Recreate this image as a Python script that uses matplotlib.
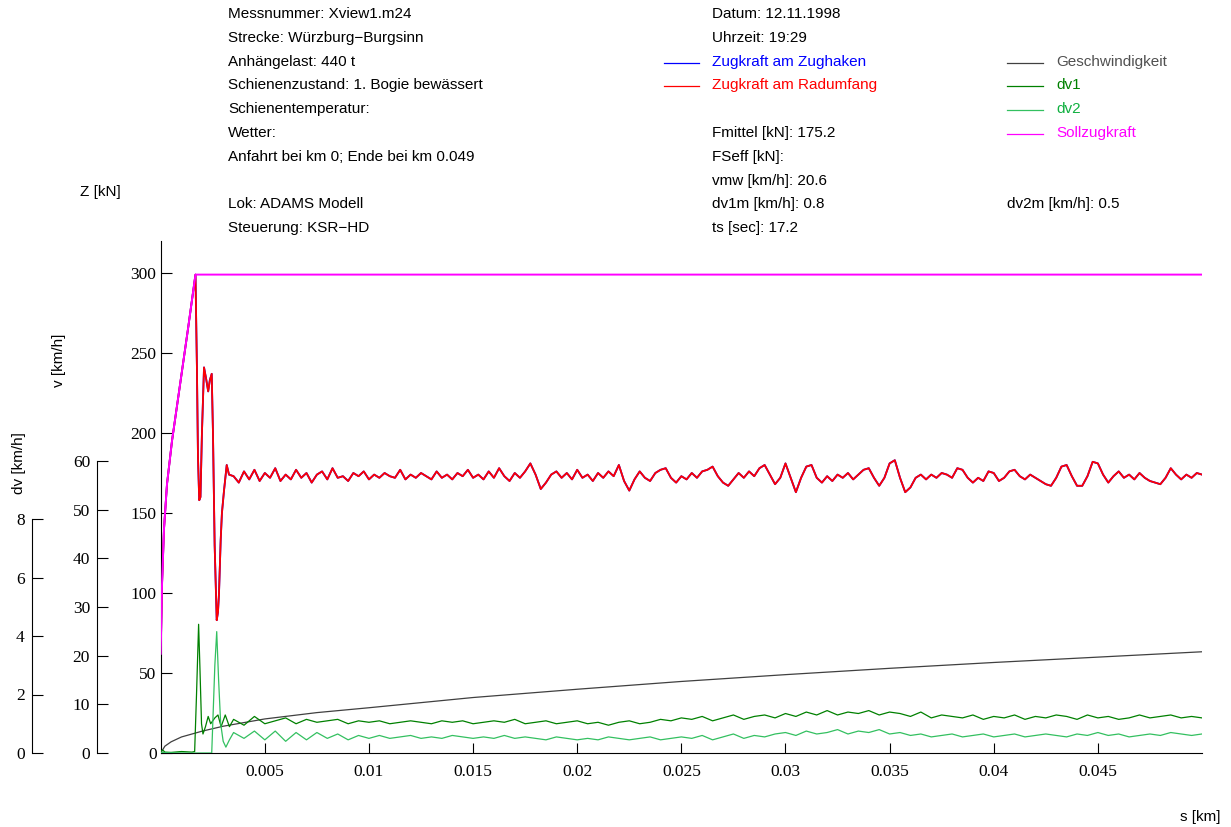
import numpy as np
import matplotlib
matplotlib.use("Agg")
import matplotlib.pyplot as plt

W, H = 1231, 827

# ---- data ----
# Sollzugkraft (target force), kN
s_soll = [0.0, 0.0000624, 0.000158, 0.000302, 0.000542, 0.000926, 0.00131, 0.00167, 0.05]
z_soll = [62, 105, 140, 168, 195, 230, 265, 299, 299]

# Zugkraft am Radumfang, start-up part (irregular spacing)
s_red_start = [0.0, 0.0000624, 0.000158, 0.000302, 0.000542, 0.000926, 0.00131, 0.00167,
               0.00174, 0.00179, 0.00185, 0.00191, 0.00198, 0.00208, 0.00218, 0.00228,
               0.00236, 0.00245, 0.00251, 0.00259, 0.00269, 0.00275, 0.0028, 0.00288,
               0.00294, 0.00304, 0.00317, 0.00328]
z_red_start = [62, 105, 140, 168, 195, 230, 265, 299,
               240, 185, 158, 160, 200, 241, 234, 226,
               233, 237, 200, 130, 83, 88, 100, 133,
               150, 164, 180, 174]
# steady part, every 0.00025 km from 0.0035 to 0.05
s_red_grid = np.arange(187) * 0.00025 + 0.0035
z_red_grid = [173, 169, 176, 171, 177, 170, 175, 172, 178, 170,
              174, 171, 177, 172, 175, 169, 174, 176, 171, 178,
              172, 173, 170, 175, 173, 176, 171, 174, 172, 175,
              173, 172, 177, 171, 174, 172, 175, 173, 171, 176,
              172, 174, 171, 175, 173, 177, 172, 174, 171, 176,
              172, 178, 173, 170, 175, 172, 176,
              181, 174, 165, 169, 174,
              176, 172, 175, 171, 177, 172, 174, 170, 175, 172, 176, 173,
              180, 170, 164, 171, 176, 172, 170, 175,
              177, 178, 172, 169, 173, 171, 175, 172, 176,
              177, 179, 173, 169, 167, 171, 175, 172, 176, 173, 178,
              180, 174, 168, 172, 181, 172, 163, 172, 179, 180,
              172, 169, 173, 170, 174, 172, 175, 171, 174,
              177, 178, 172, 167, 172, 181, 183, 172, 163, 166,
              172, 174, 171, 174, 172, 175, 174, 172, 178, 177,
              172, 169, 172, 170, 176, 175, 170, 172, 176, 177,
              173, 171, 174, 172, 170, 168, 167, 172, 179, 180,
              173, 167, 167, 173, 182, 181, 174, 169, 173, 176,
              172, 174, 171, 175, 172, 170, 169, 168, 172, 178,
              174, 171, 174, 172, 175, 174]

# Geschwindigkeit, km/h
s_speed = [0.0, 0.0002, 0.0005, 0.001, 0.002, 0.003, 0.005, 0.0075, 0.01, 0.015, 0.02,
           0.025, 0.03, 0.035, 0.04, 0.045, 0.05]
v_speed = [0.0, 1.4, 2.3, 3.3, 4.5, 5.5, 7.0, 8.3, 9.3, 11.4, 13.1,
           14.7, 16.1, 17.4, 18.6, 19.7, 20.8]

# dv1 / dv2 start-up, km/h
s_dv1_start = [0.0, 0.0001, 0.0002, 0.0005, 0.001, 0.0015, 0.00163, 0.00172, 0.00182,
               0.00188, 0.00196, 0.00203, 0.00215, 0.00228, 0.0024, 0.0026, 0.00275,
               0.0029, 0.0031, 0.0033]
dv1_start = [0.05, 0.1, 0.03, 0.02, 0.05, 0.03, 0.05, 2.0, 4.4,
             3.0, 1.0, 0.65, 0.9, 1.25, 1.0, 1.2, 1.3,
             0.9, 1.3, 0.9]
s_dv2_start = [0.0, 0.0005, 0.001, 0.0015, 0.002, 0.00245, 0.0025, 0.0026, 0.00269,
               0.00278, 0.00288, 0.003, 0.00313, 0.0033]
dv2_start = [0.02, 0.01, 0.0, 0.0, 0.0, 0.0, 1.0, 3.0, 4.15,
             2.5, 1.0, 0.4, 0.2, 0.45]
# every 0.0005 km from 0.0035 to 0.05
s_dv_grid = np.arange(94) * 0.0005 + 0.0035
dv1_grid = [1.15, 0.95, 1.25, 1.0,
            1.1, 1.2, 1.0, 1.15, 1.05, 1.1, 1.15, 1.0, 1.1, 1.05,
            1.1, 1.0, 1.05, 1.1, 1.05, 1.0, 1.1, 1.05, 1.1, 1.0,
            1.05, 1.1, 1.05, 1.15, 1.0, 1.05, 1.1, 1.0, 1.05, 1.1,
            1.0, 1.05, 0.95, 1.05, 1.1, 1.0, 1.05, 1.15, 1.1, 1.2,
            1.15, 1.25, 1.1, 1.2, 1.3, 1.15, 1.25, 1.3, 1.2, 1.35,
            1.25, 1.4, 1.3, 1.45, 1.3, 1.4, 1.35, 1.45, 1.3, 1.4,
            1.35, 1.25, 1.4, 1.2, 1.3, 1.25, 1.2, 1.3, 1.15, 1.25,
            1.2, 1.3, 1.15, 1.25, 1.2, 1.3, 1.25, 1.15, 1.3, 1.2,
            1.25, 1.15, 1.2, 1.3, 1.2, 1.25, 1.3, 1.2, 1.25, 1.2]
dv2_grid = [0.7, 0.5, 0.75, 0.45,
            0.75, 0.4, 0.7, 0.45, 0.7, 0.5, 0.65, 0.45, 0.6, 0.5,
            0.6, 0.5, 0.55, 0.6, 0.5, 0.55, 0.5, 0.6, 0.55, 0.5,
            0.55, 0.5, 0.6, 0.5, 0.55, 0.5, 0.45, 0.55, 0.5, 0.45,
            0.5, 0.45, 0.55, 0.5, 0.45, 0.5, 0.55, 0.45, 0.5, 0.55,
            0.5, 0.6, 0.45, 0.55, 0.65, 0.5, 0.6, 0.55, 0.65, 0.7,
            0.6, 0.75, 0.65, 0.7, 0.8, 0.65, 0.75, 0.7, 0.8, 0.65,
            0.7, 0.6, 0.65, 0.55, 0.6, 0.65, 0.55, 0.6, 0.65, 0.55,
            0.6, 0.65, 0.55, 0.6, 0.65, 0.6, 0.55, 0.65, 0.6, 0.7,
            0.6, 0.65, 0.55, 0.6, 0.65, 0.6, 0.7, 0.65, 0.6, 0.65]

x_ticks = [0.005, 0.01, 0.015, 0.02, 0.025, 0.03, 0.035, 0.04, 0.045]
x_ticklabels = ["0.005", "0.01", "0.015", "0.02", "0.025", "0.03", "0.035", "0.04", "0.045"]

header_left = ["Messnummer: Xview1.m24", "Strecke: Würzburg\u2212Burgsinn", "Anhängelast: 440 t",
               "Schienenzustand: 1. Bogie bewässert", "Schienentemperatur:", "Wetter:",
               "Anfahrt bei km 0; Ende bei km 0.049", "", "Lok: ADAMS Modell",
               "Steuerung: KSR\u2212HD"]
header_mid = [("Datum: 12.11.1998", 0), ("Uhrzeit: 19:29", 1), ("Fmittel [kN]: 175.2", 5),
              ("FSeff [kN]:", 6), ("vmw [km/h]: 20.6", 7), ("dv1m [km/h]: 0.8", 8),
              ("ts [sec]: 17.2", 9)]
legend_mid = [("Zugkraft am Zughaken", "#0000ff", 2), ("Zugkraft am Radumfang", "#ff0000", 3)]
legend_right = [("Geschwindigkeit", "#404040", "#505050", 2), ("dv1", "#008000", "#008000", 3),
                ("dv2", "#33c060", "#10b040", 4), ("Sollzugkraft", "#ff00ff", "#ff00ff", 5)]

s_red = np.concatenate([s_red_start, s_red_grid])
z_red = np.concatenate([z_red_start, z_red_grid])
s_dv1 = np.concatenate([s_dv1_start, s_dv_grid])
v_dv1 = np.concatenate([dv1_start, dv1_grid])
s_dv2 = np.concatenate([s_dv2_start, s_dv_grid])
v_dv2 = np.concatenate([dv2_start, dv2_grid])

SANS = "Liberation Sans"
SERIF = "Liberation Serif"


def fx(px):
    return px / W


def fy(py):
    return 1 - py / H


fig = plt.figure(figsize=(W / 100, H / 100), dpi=100)
left, right, bottom, top = 160.7, 1202, 753, 241
ax = fig.add_axes([fx(left), fy(bottom), (right - left) / W, (bottom - top) / H])

ax.plot(s_red, z_red, color="#0000ff", lw=1.3)
ax.plot(s_red, z_red, color="#ff0000", lw=1.3)
ax.set_xlim(0, 0.05)
ax.set_ylim(0, 320)
ax.set_xticks(x_ticks)
ax.set_xticklabels(x_ticklabels)
ax.set_yticks([0, 50, 100, 150, 200, 250, 300])
for sp in ["top", "right"]:
    ax.spines[sp].set_visible(False)
ax.tick_params(axis="x", direction="in", length=7, width=0.8, pad=8)
ax.tick_params(axis="y", direction="in", length=8, width=0.8, pad=3)

# speed axis
axv = ax.twinx()
axv.plot(s_speed, v_speed, color="#404040", lw=0.9)
axv.set_ylim(0, 60 * 512 / 292)
axv.yaxis.set_ticks_position("left")
axv.spines["left"].set_position(("axes", (97 - left) / (right - left)))
axv.spines["left"].set_bounds(0, 60)
for sp in ["top", "right", "bottom"]:
    axv.spines[sp].set_visible(False)
axv.set_yticks([0, 10, 20, 30, 40, 50, 60])
axv.tick_params(axis="y", direction="in", length=8, width=0.8, pad=5)

# dv axis
axd = ax.twinx()
axd.plot(s_dv1, v_dv1, color="#008000", lw=0.9)
axd.plot(s_dv2, v_dv2, color="#33c060", lw=0.9)
axd.set_ylim(0, 8 * 512 / 234)
axd.yaxis.set_ticks_position("left")
axd.spines["left"].set_position(("axes", (31.7 - left) / (right - left)))
axd.spines["left"].set_bounds(0, 8)
for sp in ["top", "right", "bottom"]:
    axd.spines[sp].set_visible(False)
axd.set_yticks([0, 2, 4, 6, 8])
axd.tick_params(axis="y", direction="in", length=8, width=0.8, pad=5)

# target force on top
axs = ax.twinx()
axs.set_ylim(0, 320)
axs.axis("off")
axs.plot(s_soll, z_soll, color="#ff00ff", lw=1.4)

for a in (ax, axv, axd):
    for lab in a.get_xticklabels() + a.get_yticklabels():
        lab.set_fontfamily(SERIF)
        lab.set_fontsize(12.5)

# axis titles
fig.text(fx(100), fy(192), "Z [kN]", family=SANS, fontsize=11, ha="center", va="center")
fig.text(fx(59), fy(360), "v [km/h]", family=SANS, fontsize=11, ha="center", va="center", rotation=90)
fig.text(fx(19), fy(463), "dv [km/h]", family=SANS, fontsize=11, ha="center", va="center", rotation=90)
fig.text(fx(1220), fy(817), "s [km]", family=SANS, fontsize=11, ha="right", va="center")

# header block
row_y = [14 + 23.8 * k for k in range(10)]
for k, t in enumerate(header_left):
    if t:
        fig.text(fx(228), fy(row_y[k]), t, family=SANS, fontsize=11, va="center")
for t, k in header_mid:
    fig.text(fx(712), fy(row_y[k]), t, family=SANS, fontsize=11, va="center")
fig.text(fx(1007), fy(row_y[8]), "dv2m [km/h]: 0.5", family=SANS, fontsize=11, va="center")
for t, c, k in legend_mid:
    fig.add_artist(plt.Line2D([fx(664), fx(699)], [fy(row_y[k] + 1)] * 2, color=c, lw=0.9))
    fig.text(fx(712), fy(row_y[k]), t, family=SANS, fontsize=11, va="center", color=c)
for t, lc, tc, k in legend_right:
    fig.add_artist(plt.Line2D([fx(1007), fx(1043)], [fy(row_y[k] + 1)] * 2, color=lc, lw=0.9))
    fig.text(fx(1056), fy(row_y[k]), t, family=SANS, fontsize=11, va="center", color=tc)

fig.savefig("out.png", dpi=100)
